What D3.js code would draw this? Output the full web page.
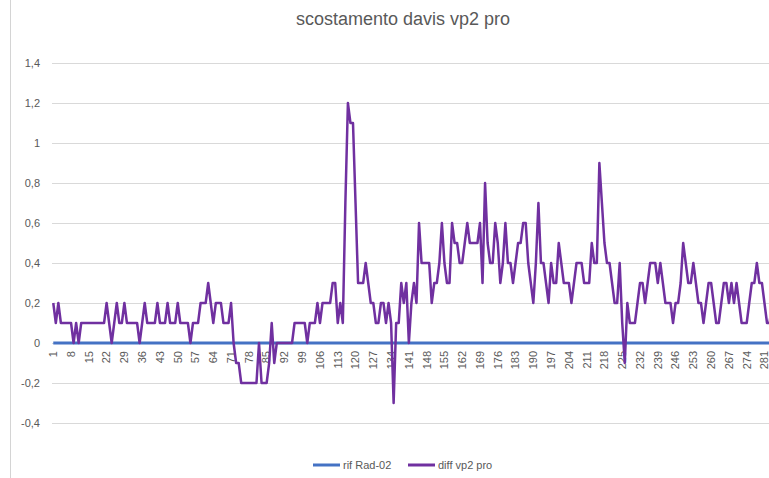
<!DOCTYPE html>
<html><head><meta charset="utf-8">
<script src="https://cdn.jsdelivr.net/npm/d3@7"></script>
<style>html,body{margin:0;padding:0;background:#fff;overflow:hidden}</style>
</head><body>
<svg id="chart" width="769" height="478"></svg>
<script>
// ---- data ----
const categories = d3.range(1, 285); // category labels 1..284
const tickLabels = [1,8,15,22,29,36,43,50,57,64,71,78,85,92,99,106,113,120,127,134,141,148,155,162,169,176,183,190,197,204,211,218,225,232,239,246,253,260,267,274,281];
const yTicks = [-0.4,-0.2,0,0.2,0.4,0.6,0.8,1,1.2,1.4];
const seriesNames = ["rif Rad-02", "diff vp2 pro"];
const rifRad02 = [
0,0,0,0,0,0,0,0,0,0,0,0,0,0,0,0,0,0,0,0,
0,0,0,0,0,0,0,0,0,0,0,0,0,0,0,0,0,0,0,0,
0,0,0,0,0,0,0,0,0,0,0,0,0,0,0,0,0,0,0,0,
0,0,0,0,0,0,0,0,0,0,0,0,0,0,0,0,0,0,0,0,
0,0,0,0,0,0,0,0,0,0,0,0,0,0,0,0,0,0,0,0,
0,0,0,0,0,0,0,0,0,0,0,0,0,0,0,0,0,0,0,0,
0,0,0,0,0,0,0,0,0,0,0,0,0,0,0,0,0,0,0,0,
0,0,0,0,0,0,0,0,0,0,0,0,0,0,0,0,0,0,0,0,
0,0,0,0,0,0,0,0,0,0,0,0,0,0,0,0,0,0,0,0,
0,0,0,0,0,0,0,0,0,0,0,0,0,0,0,0,0,0,0,0,
0,0,0,0,0,0,0,0,0,0,0,0,0,0,0,0,0,0,0,0,
0,0,0,0,0,0,0,0,0,0,0,0,0,0,0,0,0,0,0,0,
0,0,0,0,0,0,0,0,0,0,0,0,0,0,0,0,0,0,0,0,
0,0,0,0,0,0,0,0,0,0,0,0,0,0,0,0,0,0,0,0,
0,0,0,0];
const diffVp2Pro = [
0.2,0.1,0.2,0.1,0.1,0.1,0.1,0.1,0,0.1,
0,0.1,0.1,0.1,0.1,0.1,0.1,0.1,0.1,0.1,
0.1,0.2,0.1,0,0.1,0.2,0.1,0.1,0.2,0.1,
0.1,0.1,0.1,0.1,0,0.1,0.2,0.1,0.1,0.1,
0.1,0.2,0.1,0.1,0.1,0.2,0.1,0.1,0.1,0.2,
0.1,0.1,0.1,0.1,0,0.1,0.1,0.1,0.2,0.2,
0.2,0.3,0.2,0.1,0.2,0.2,0.2,0.1,0.1,0.1,
0.2,0,-0.1,-0.1,-0.2,-0.2,-0.2,-0.2,-0.2,-0.2,
-0.2,0,-0.2,-0.2,-0.2,-0.1,0.1,-0.1,0,0,
0,0,0,0,0,0.1,0.1,0.1,0.1,0.1,
0,0.1,0.1,0.1,0.2,0.1,0.2,0.2,0.2,0.2,
0.3,0.3,0.1,0.2,0.1,0.7,1.2,1.1,1.1,0.7,
0.3,0.3,0.3,0.4,0.3,0.2,0.2,0.1,0.1,0.2,
0.2,0.1,0.2,0.1,-0.3,0.1,0.1,0.3,0.2,0.3,
0,0.2,0.3,0.2,0.6,0.4,0.4,0.4,0.4,0.2,
0.3,0.3,0.4,0.6,0.4,0.3,0.3,0.6,0.5,0.5,
0.4,0.4,0.5,0.6,0.5,0.5,0.5,0.5,0.6,0.3,
0.8,0.5,0.4,0.4,0.6,0.5,0.3,0.4,0.6,0.4,
0.4,0.3,0.4,0.5,0.5,0.6,0.6,0.4,0.3,0.2,
0.4,0.7,0.4,0.4,0.3,0.2,0.4,0.3,0.3,0.5,
0.4,0.3,0.3,0.3,0.2,0.3,0.4,0.4,0.4,0.3,
0.3,0.3,0.5,0.4,0.4,0.9,0.7,0.5,0.4,0.4,
0.3,0.2,0.2,0.4,0.1,-0.1,0.2,0.1,0.1,0.1,
0.2,0.3,0.3,0.2,0.3,0.4,0.4,0.4,0.3,0.4,
0.3,0.2,0.2,0.2,0.1,0.2,0.2,0.3,0.5,0.4,
0.3,0.3,0.4,0.3,0.2,0.2,0.1,0.2,0.3,0.3,
0.2,0.1,0.1,0.2,0.3,0.3,0.2,0.3,0.2,0.3,
0.2,0.1,0.1,0.1,0.2,0.3,0.3,0.4,0.3,0.3,
0.2,0.1,0.1,0.2];
const colors = ["#4472C4", "#7030A0"];
const title = "scostamento davis vp2 pro";

// ---- chart ----
const svg = d3.select("#chart");
const fontFam = "'Liberation Sans', Arial, sans-serif";
const plotLeft = 52, band = 2.54;
const x = d3.scaleBand().domain(categories).range([plotLeft, plotLeft + categories.length * band]).padding(0);
const cx = d => x(d) + x.bandwidth() / 2;
const y = d3.scaleLinear().domain([-0.4, 1.4]).range([423, 63]);
const fmt = v => d3.format("")(+v.toFixed(1)).replace(".", ",").replace("−", "-");

// border line at left
svg.append("line").attr("x1", 10.5).attr("x2", 10.5).attr("y1", 0).attr("y2", 478)
  .attr("stroke", "#d4d4d4").attr("stroke-width", 1);

// gridlines + y labels
const yAxis = d3.axisLeft(y).tickValues(yTicks).tickSize(-(x.range()[1] - plotLeft)).tickFormat(fmt).tickPadding(12);
const gy = svg.append("g").attr("transform", `translate(${plotLeft},0)`).call(yAxis);
gy.select(".domain").remove();
gy.selectAll(".tick line").attr("stroke", "#d9d9d9").attr("stroke-width", 1);
gy.selectAll(".tick text").attr("fill", "#595959").style("font-family", fontFam).style("font-size", "11px");

// reference series (line at zero)
const line = d3.line().x((d, i) => cx(categories[i])).y(d => y(d));
svg.append("path").datum(rifRad02).attr("d", line).attr("fill", "none")
  .attr("stroke", colors[0]).attr("stroke-width", 3);

// x axis labels (category axis crossing at 0)
const xAxis = d3.axisBottom(x).tickValues(tickLabels).tickSize(0).tickPadding(0);
const gx = svg.append("g").attr("transform", `translate(0,${y(0)})`).call(xAxis);
gx.select(".domain").remove();
gx.selectAll(".tick text")
  .attr("transform", "rotate(-90)")
  .attr("x", -8).attr("y", 0).attr("dy", "0.35em")
  .attr("text-anchor", "end")
  .attr("fill", "#595959").style("font-family", fontFam).style("font-size", "11px");

// diff series
svg.append("path").datum(diffVp2Pro).attr("d", line).attr("fill", "none")
  .attr("stroke", colors[1]).attr("stroke-width", 2.5).attr("stroke-linejoin", "round");

// title
svg.append("text").attr("x", 403).attr("y", 25).attr("text-anchor", "middle")
  .attr("fill", "#595959").style("font-family", fontFam).style("font-size", "18px").text(title);

// legend
const legendX = [313, 408];
seriesNames.forEach((name, i) => {
  const g = svg.append("g").attr("transform", `translate(${legendX[i]},465)`);
  g.append("line").attr("x1", 0).attr("x2", 27).attr("y1", 0).attr("y2", 0)
    .attr("stroke", colors[i]).attr("stroke-width", 3);
  g.append("text").attr("x", 30).attr("y", 0).attr("dy", "0.35em")
    .attr("fill", "#595959").style("font-family", fontFam).style("font-size", "11px").text(name);
});
</script>
</body></html>
